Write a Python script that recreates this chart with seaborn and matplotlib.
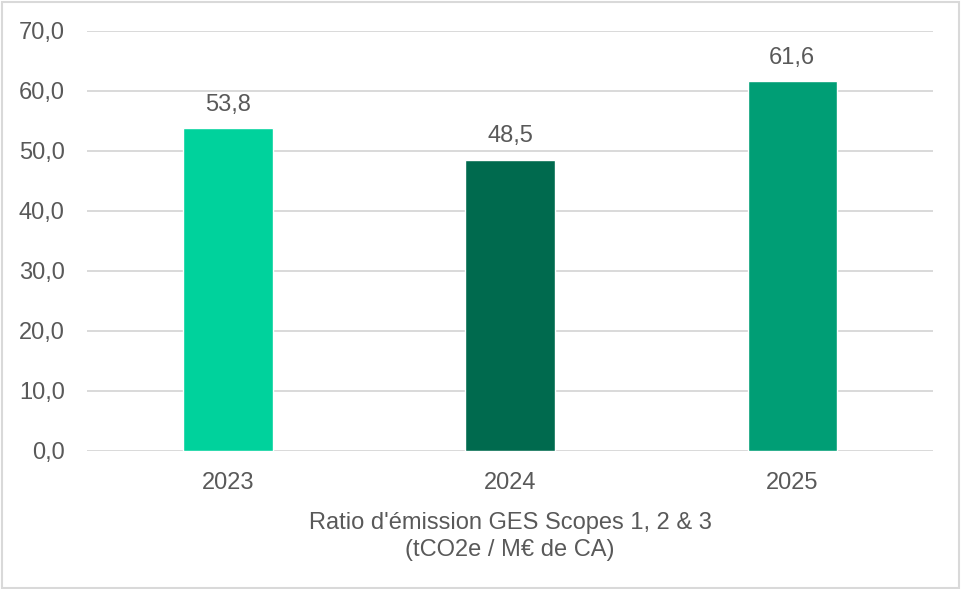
import matplotlib
matplotlib.use("Agg")
import matplotlib.pyplot as plt
from matplotlib.patches import Rectangle
import seaborn as sns
import pandas as pd

# Emission intensity by year (tCO2e per M€ of revenue)
years = ["2023", "2024", "2025"]
ratios = [53.8, 48.5, 61.6]
bar_colors = ["#00D29C", "#006A4E", "#009E75"]
y_ticks = [0, 10, 20, 30, 40, 50, 60, 70]
x_title = "Ratio d'émission GES Scopes 1, 2 & 3\n(tCO2e / M€ de CA)"

sns.set_theme(style="white")
plt.rcParams["font.family"] = ["Liberation Sans", "DejaVu Sans"]

text_color = "#595959"
grid_color = "#D9D9D9"

df = pd.DataFrame({"year": years, "ratio": ratios})

fig = plt.figure(figsize=(9.62, 5.89), dpi=100)
ax = fig.add_axes([0.0904, 0.2348, 0.8796, 0.7126])

sns.barplot(data=df, x="year", y="ratio", hue="year",
            palette=dict(zip(years, bar_colors)), width=0.316,
            saturation=1, legend=False, ax=ax, zorder=3)

ax.set_ylim(0, 70)
ax.set_xlim(-0.5, len(years) - 0.5)
ax.set_yticks(y_ticks)
ax.set_yticklabels([f"{t:.1f}".replace(".", ",") for t in y_ticks])
ax.yaxis.grid(True, color=grid_color, linewidth=1.4, zorder=0)
ax.xaxis.grid(False)
ax.set_axisbelow(True)
for s in ax.spines.values():
    s.set_visible(False)

ax.tick_params(axis="y", length=0, pad=16, labelsize=17, labelcolor=text_color)
ax.tick_params(axis="x", length=0, pad=15, labelsize=17, labelcolor=text_color)

ax.set_ylabel("")
ax.set_xlabel(x_title, fontsize=17, color=text_color, labelpad=13, linespacing=1.3)

# Value labels above each bar
for i, v in enumerate(ratios):
    ax.annotate(f"{v:.1f}".replace(".", ","), xy=(i, v), xytext=(0, 9),
                textcoords="offset points", ha="center", va="bottom",
                fontsize=17, color=text_color)

# Thin frame around the whole figure
fig.patches.append(Rectangle((0.002, 0.002), 0.995, 0.994, transform=fig.transFigure,
                             fill=False, edgecolor=grid_color, linewidth=1.5))

fig.savefig("out.png", dpi=100)
